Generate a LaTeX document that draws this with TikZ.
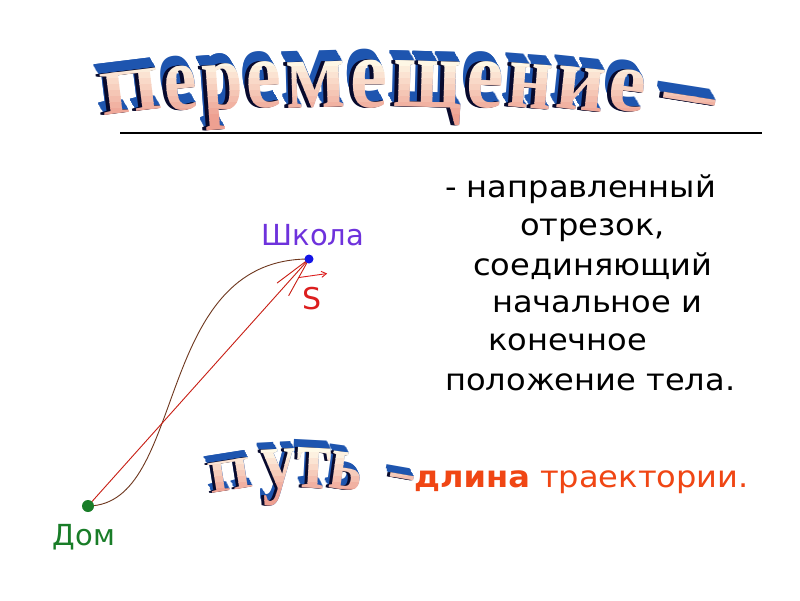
\documentclass[tikz,border=0pt]{standalone}
\usepackage{fontspec}
\setmainfont{DejaVu Sans}
\newfontfamily\bodyfont{DejaVu Sans}[FakeStretch=1.07]
\newfontfamily\wafont{Liberation Serif}
\usetikzlibrary{arrows.meta}
\definecolor{waBlue}{RGB}{30,85,175}
\definecolor{waNavy}{RGB}{8,10,45}
\definecolor{waTop}{RGB}{255,250,232}
\definecolor{waBot}{RGB}{238,160,145}
\definecolor{trajC}{RGB}{110,55,30}
\definecolor{vecC}{RGB}{200,30,20}
\definecolor{sC}{RGB}{220,30,30}
\definecolor{domC}{RGB}{25,125,40}
\definecolor{schC}{RGB}{110,50,220}
\definecolor{dotB}{RGB}{20,20,230}
\definecolor{lenC}{RGB}{240,70,20}
\tikzset{
  wa/.style={font=\wafont\bfseries\fontsize{60}{60}\selectfont, anchor=base, inner sep=0pt, outer sep=0pt},
  body/.style={font=\bodyfont\fontsize{30}{30}\selectfont, anchor=base west, inner sep=0pt},
  lbl/.style={font=\fontsize{29}{29}\selectfont, anchor=base, inner sep=0pt},
  pt/.style={circle, inner sep=0pt, minimum size=#1},
}
\newcommand\WAdraw[4]{\foreach \ltr/\x/\y/\rot/\sx/\sy in #4 {\node[wa,text=#1,rotate=\rot] at ({\x+(#2)},{-\y+(#3)}) {\scalebox{\sx}[\sy]{\ltr}};}}
\def\TitleList{П/133/111.6/7/1.28/1.04, е/183/110/5.5/1.24/1.55, р/224/108.9/4/1.2/1.6, е/265/107.9/3/1.32/1.63, м/317/107.3/1.5/1.47/1.66, е/369/107/0/1.39/1.68, щ/427/107.1/-1.5/1.36/1.67, е/484/107.6/-3/1.39/1.63, н/529/108.4/-4.5/1.29/1.6, и/579/109.6/-6/1.41/1.53, е/625/111.1/-7/1.39/1.46, –/687/118/-9/1.7/1.4}
\def\PathList{П/233/490/9/0.92/0.76, у/280/488/3/1.17/1.39, т/313/488/-3/1.17/1.46, ь/344/490/-8/1.03/1.35, –/400/490/-10/0.77/1.0}
\begin{document}
\begin{tikzpicture}[x=1pt,y=1pt]
\fill[white] (0,0) rectangle (800,-600);
\useasboundingbox (0,0) rectangle (800,-600);
% ---- WordArt title
\foreach \i in {12,...,1} {\WAdraw{waBlue}{-0.5*\i}{0.85*\i}{\TitleList}}
\foreach \i in {4,...,1} {\WAdraw{waNavy}{-\i}{0}{\TitleList}}
\foreach \b in {0,...,15} {
  \pgfmathsetmacro\yy{48+\b*6}
  \pgfmathsetmacro\pp{min(100,max(0,(\yy-58)/55*100))}
  \colorlet{bandc}{waBot!\pp!waTop}
  \begin{scope}
    \clip (0,-\yy) rectangle (800,{-\yy-6.4});
    \WAdraw{bandc}{0}{0}{\TitleList}
  \end{scope}
}
% ---- rule
\coordinate (ruleL) at (120,-133);
\coordinate (ruleR) at (762,-133);
\draw[line width=1.2pt] (ruleL) -- (ruleR);
% ---- WordArt "путь –"
\foreach \i in {9,...,1} {\WAdraw{waBlue}{-0.45*\i}{0.8*\i}{\PathList}}
\foreach \i in {3,...,1} {\WAdraw{waNavy}{-\i}{0}{\PathList}}
\foreach \b in {0,...,11} {
  \pgfmathsetmacro\yy{440+\b*6}
  \pgfmathsetmacro\pp{min(100,max(0,(\yy-448)/42*100))}
  \colorlet{bandc}{waBot!\pp!waTop}
  \begin{scope}
    \clip (0,-\yy) rectangle (800,{-\yy-6.4});
    \WAdraw{bandc}{0}{0}{\PathList}
  \end{scope}
}
% ---- definition text
\node[body] (l1) at (445,-197) {- направленный};
\node[body] (l2) at (520,-235) {отрезок,};
\node[body] (l3) at (473,-275) {соединяющий};
\node[body] (l4) at (492,-312) {начальное и};
\node[body] (l5) at (488,-350) {конечное};
\node[body] (l6) at (445,-390) {положение тела.};
\node[body, text=lenC] (len) at (414,-487) {\textbf{длина} траектории.};
% ---- points and paths
\coordinate (domP) at (88,-506);
\coordinate (schP) at (309,-259);
\draw[trajC, line width=0.9pt] (domP) .. controls (188,-505) and (152,-259) .. (schP);
\draw[vecC, line width=0.9pt] (domP) -- (schP);
\draw[vecC, line width=0.9pt, line join=miter] ([shift={(217:40)}]schP) -- (schP) -- ([shift={(241:42)}]schP);
\node[pt=12pt, fill=domC] (dom) at (domP) {};
\node[pt=9pt, fill=dotB] (sch) at (schP) {};
\node[lbl, text=domC] (domL) at (84,-545) {Дом};
\node[lbl, text=schC] (schL) at (313,-245) {Школа};
\node[lbl, text=sC, font=\fontsize{30}{30}\selectfont] (S) at (312.5,-309) {S};
\draw[sC, line width=0.9pt, -{Straight Barb[length=5pt,width=6pt]}] ([shift={(-4,9)}]S.north west) -- ([shift={(5,13)}]S.north east);
\end{tikzpicture}
\end{document}
